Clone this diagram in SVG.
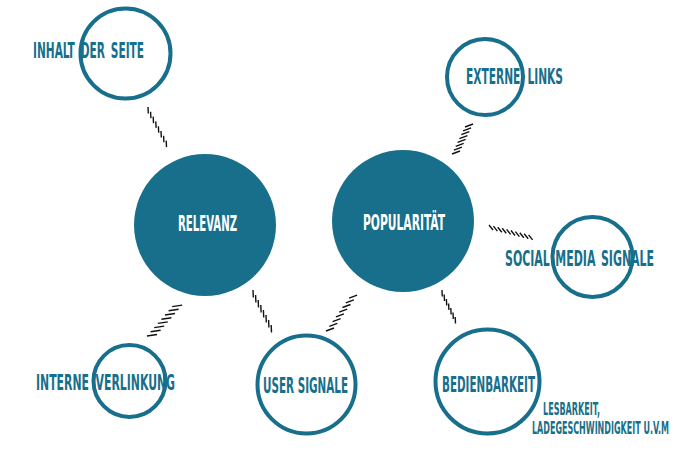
<svg xmlns="http://www.w3.org/2000/svg" width="700" height="453" viewBox="0 0 700 453">
<style>
.ring{fill:#fff;stroke:#176f8b;stroke-width:4}
.hub{fill:#176f8b}
.lbl{font-family:"DejaVu Sans Condensed","Liberation Sans Narrow","Liberation Sans",sans-serif;font-size:21px;font-weight:bold;fill:#176f8b}
.hubl{font-family:"DejaVu Sans Condensed","Liberation Sans Narrow","Liberation Sans",sans-serif;font-size:21px;font-weight:bold;fill:#fff}
.sub{font-size:17px}
.hatch{fill:none;stroke:#111;stroke-width:1.4}
</style>
<rect width="700" height="453" fill="#fff"/>
<g id="connectors">
<path class="hatch" d="M148 107l0.3 6.5M150.6 111.8l0.3 6.5M153.2 116.6l0.3 6.5M155.8 121.4l0.3 6.5M158.4 126.2l0.3 6.5M161 131l0.3 6.5M163.6 135.8l0.3 6.5M166.2 140.6l0.3 6.5"/>
<path class="hatch" d="M452 154l8 -3M453.9 150.1l8 -3M455.7 146.3l8 -3M457.6 142.4l8 -3M459.4 138.6l8 -3M461.3 134.7l8 -3M463.1 130.9l8 -3M465 127l8 -3"/>
<path class="hatch" d="M489 225l4 5M493.4 226.1l4 5M497.8 227.2l4 5M502.2 228.3l4 5M506.6 229.4l4 5M511 230.5l4 5M515.4 231.6l4 5M519.8 232.7l4 5M524.2 233.8l4 5M528.6 234.9l4 5"/>
<path class="hatch" d="M147 336l10 -1.5M150.6 331.8l10 -1.5M154.2 327.6l10 -1.5M157.8 323.4l10 -1.5M161.4 319.2l10 -1.5M165 315l10 -1.5M168.6 310.8l10 -1.5M172.2 306.6l10 -1.5"/>
<path class="hatch" d="M253 290l0.3 7.5M255.6 295l0.3 7.5M258.2 300l0.3 7.5M260.8 305l0.3 7.5M263.4 310l0.3 7.5M266 315l0.3 7.5M268.6 320l0.3 7.5M271.2 325l0.3 7.5"/>
<path class="hatch" d="M326 331l8 -3M329.3 326.3l8 -3M332.6 321.6l8 -3M335.9 316.9l8 -3M339.2 312.2l8 -3M342.5 307.5l8 -3M345.8 302.8l8 -3M349.1 298.1l8 -3"/>
<path class="hatch" d="M442 290l0.3 6.5M444.2 294.5l0.3 6.5M446.4 299l0.3 6.5M448.6 303.5l0.3 6.5M450.8 308l0.3 6.5M453 312.5l0.3 6.5M455.2 317l0.3 6.5"/>
</g>
<g id="relevanz">
<circle class="hub" cx="205" cy="225" r="71"/>
<text class="hubl" x="178" y="231" textLength="59" lengthAdjust="spacingAndGlyphs">RELEVANZ</text>
</g>
<g id="popularitaet">
<circle class="hub" cx="403" cy="221" r="71"/>
<text class="hubl" x="363" y="230" textLength="82" lengthAdjust="spacingAndGlyphs">POPULARITÄT</text>
</g>
<g id="inhalt">
<circle class="ring" cx="125.5" cy="53.5" r="45"/>
<text class="lbl" x="33" y="58" textLength="111" lengthAdjust="spacingAndGlyphs" word-spacing="4">INHALT DER SEITE</text>
</g>
<g id="externe">
<circle class="ring" cx="485" cy="77" r="38"/>
<text class="lbl" x="466" y="84" textLength="97" lengthAdjust="spacingAndGlyphs" word-spacing="6">EXTERNE LINKS</text>
</g>
<g id="social">
<circle class="ring" cx="592.5" cy="257" r="40"/>
<text class="lbl" x="505" y="266" textLength="149" lengthAdjust="spacingAndGlyphs" word-spacing="3">SOCIAL MEDIA SIGNALE</text>
</g>
<g id="interne">
<circle class="ring" cx="129.5" cy="381" r="36"/>
<text class="lbl" x="36" y="390" textLength="139" lengthAdjust="spacingAndGlyphs" word-spacing="5">INTERNE VERLINKUNG</text>
</g>
<g id="user">
<circle class="ring" cx="306.5" cy="384.5" r="49"/>
<text class="lbl" x="263" y="393" textLength="85" lengthAdjust="spacingAndGlyphs">USER SIGNALE</text>
</g>
<g id="bedienbarkeit">
<circle class="ring" cx="487.5" cy="381.5" r="52"/>
<text class="lbl" x="442" y="392" textLength="93" lengthAdjust="spacingAndGlyphs">BEDIENBARKEIT</text>
<text class="lbl sub" x="543" y="415" textLength="57" lengthAdjust="spacingAndGlyphs">LESBARKEIT,</text>
<text class="lbl sub" x="532" y="434" textLength="137" lengthAdjust="spacingAndGlyphs">LADEGESCHWINDIGKEIT U.V.M</text>
</g>
</svg>
